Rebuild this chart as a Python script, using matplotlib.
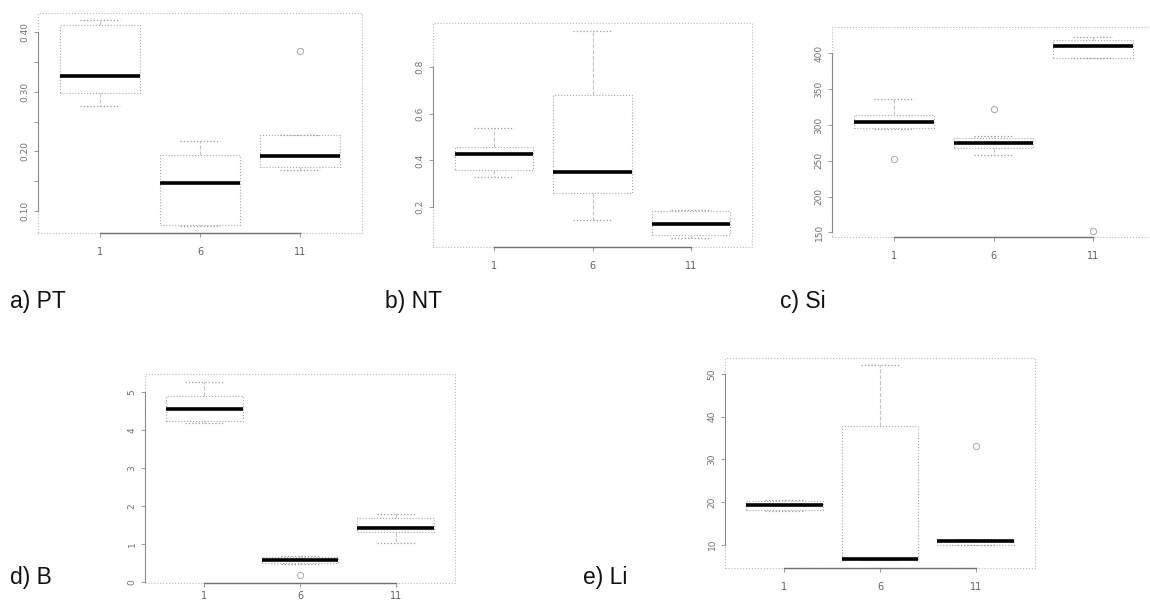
import matplotlib
matplotlib.use("Agg")
import matplotlib.pyplot as plt
from matplotlib.patches import Rectangle

W, H = 1150, 604

groups = ["1", "6", "11"]

# a) PT
pt_whislo = [0.276, 0.076, 0.169]
pt_q1 = [0.298, 0.078, 0.174]
pt_med = [0.326, 0.147, 0.192]
pt_q3 = [0.411, 0.194, 0.228]
pt_whishi = [0.419, 0.217, 0.228]
pt_fliers = [[], [], [0.367]]

# b) NT
nt_whislo = [0.329, 0.146, 0.069]
nt_q1 = [0.360, 0.260, 0.079]
nt_med = [0.429, 0.350, 0.126]
nt_q3 = [0.457, 0.679, 0.183]
nt_whishi = [0.540, 0.954, 0.189]
nt_fliers = [[], [], []]

# c) Si
si_whislo = [294, 258, 394]
si_q1 = [296, 268, 394]
si_med = [304, 275, 410]
si_q3 = [314, 282, 419]
si_whishi = [337, 285, 423]
si_fliers = [[253], [323], [152]]

# d) B
b_whislo = [4.20, 0.48, 1.03]
b_q1 = [4.24, 0.50, 1.31]
b_med = [4.57, 0.57, 1.42]
b_q3 = [4.89, 0.65, 1.69]
b_whishi = [5.26, 0.68, 1.78]
b_fliers = [[], [0.19], []]

# e) Li
li_whislo = [17.9, 6.3, 9.8]
li_q1 = [18.1, 6.4, 10.0]
li_med = [19.3, 6.5, 10.8]
li_q3 = [20.3, 37.7, 10.9]
li_whishi = [20.5, 52.2, 11.2]
li_fliers = [[], [], [33.0]]


def panel(rect, whislo, q1, med, q3, whishi, fliers, ylim, yticks, ylabels, xpad=7):
    l, r, t, b = rect
    ax = fig.add_axes([l / W, 1 - b / H, (r - l) / W, (b - t) / H])
    stats = []
    for i in range(3):
        stats.append(dict(whislo=whislo[i], q1=q1[i], med=med[i], q3=q3[i],
                          whishi=whishi[i], fliers=fliers[i]))
    ax.bxp(stats, positions=[1, 2, 3], widths=0.8, capwidths=0.4,
           boxprops=dict(color="#a8a8a8", lw=0.8, ls=":"),
           whiskerprops=dict(color="#c4c4c4", lw=0.8, ls="--"),
           capprops=dict(color="#9a9a9a", lw=0.9, ls=":"),
           medianprops=dict(color="black", lw=2.6, solid_capstyle="butt"),
           flierprops=dict(marker="o", mfc="none", mec="#a8a8a8", ms=4.5, mew=0.7))
    ax.set_xlim(0.38, 3.62)
    ax.set_ylim(*ylim)
    ax.add_patch(Rectangle((0, 0), 1, 1, transform=ax.transAxes, fill=False,
                           ec="#b8b8b8", lw=0.8, ls=":", clip_on=False))
    for s in ["top", "right"]:
        ax.spines[s].set_visible(False)
    ax.spines["left"].set_bounds(yticks[0], yticks[-1])
    ax.spines["bottom"].set_bounds(1, 3)
    ax.spines["left"].set_color("#8a8a8a")
    ax.spines["bottom"].set_color("#707070")
    ax.spines["left"].set_linewidth(0.8)
    ax.spines["bottom"].set_linewidth(1.0)
    ax.set_xticks([1, 2, 3])
    ax.set_xticklabels(groups)
    ax.set_yticks(yticks)
    ax.set_yticklabels(ylabels, rotation=90, va="center")
    ax.tick_params(axis="y", length=3, width=0.6, color="#8a8a8a",
                   labelsize=6.5, labelcolor="#707070", pad=3)
    ax.tick_params(axis="x", length=3, width=0.6, color="#8a8a8a",
                   labelsize=7, labelcolor="#606060", pad=xpad)
    return ax


fig = plt.figure(figsize=(W / 100, H / 100), dpi=100)
fig.patch.set_facecolor("white")

panel((38, 362, 13, 233), pt_whislo, pt_q1, pt_med, pt_q3, pt_whishi, pt_fliers,
      (0.064, 0.431), [0.10, 0.15, 0.20, 0.25, 0.30, 0.35, 0.40],
      ["0.10", "", "0.20", "", "0.30", "", "0.40"])
panel((433, 752, 23, 247), nt_whislo, nt_q1, nt_med, nt_q3, nt_whishi, nt_fliers,
      (0.029, 0.989), [0.2, 0.4, 0.6, 0.8], ["0.2", "0.4", "0.6", "0.8"])
panel((832, 1155, 27, 237), si_whislo, si_q1, si_med, si_q3, si_whishi, si_fliers,
      (143.5, 437), [150, 200, 250, 300, 350, 400],
      ["150", "200", "250", "300", "350", "400"])
panel((145, 455, 374, 583), b_whislo, b_q1, b_med, b_q3, b_whishi, b_fliers,
      (-0.03, 5.48), [0, 1, 2, 3, 4, 5], ["0", "1", "2", "3", "4", "5"], xpad=3)
panel((725, 1035, 358, 568), li_whislo, li_q1, li_med, li_q3, li_whishi, li_fliers,
      (4.5, 53.75), [10, 20, 30, 40, 50], ["10", "20", "30", "40", "50"])

labels = [("a) PT", 10, 308), ("b) NT", 385, 308), ("c) Si", 780, 308),
          ("d) B", 10, 584), ("e) Li", 583, 584)]
for txt, x, y in labels:
    fig.text(x / W, 1 - y / H, txt, fontsize=16.5, family="Liberation Sans",
             va="baseline", ha="left", color="#111111")

fig.savefig("out.png", dpi=100, facecolor="white")
